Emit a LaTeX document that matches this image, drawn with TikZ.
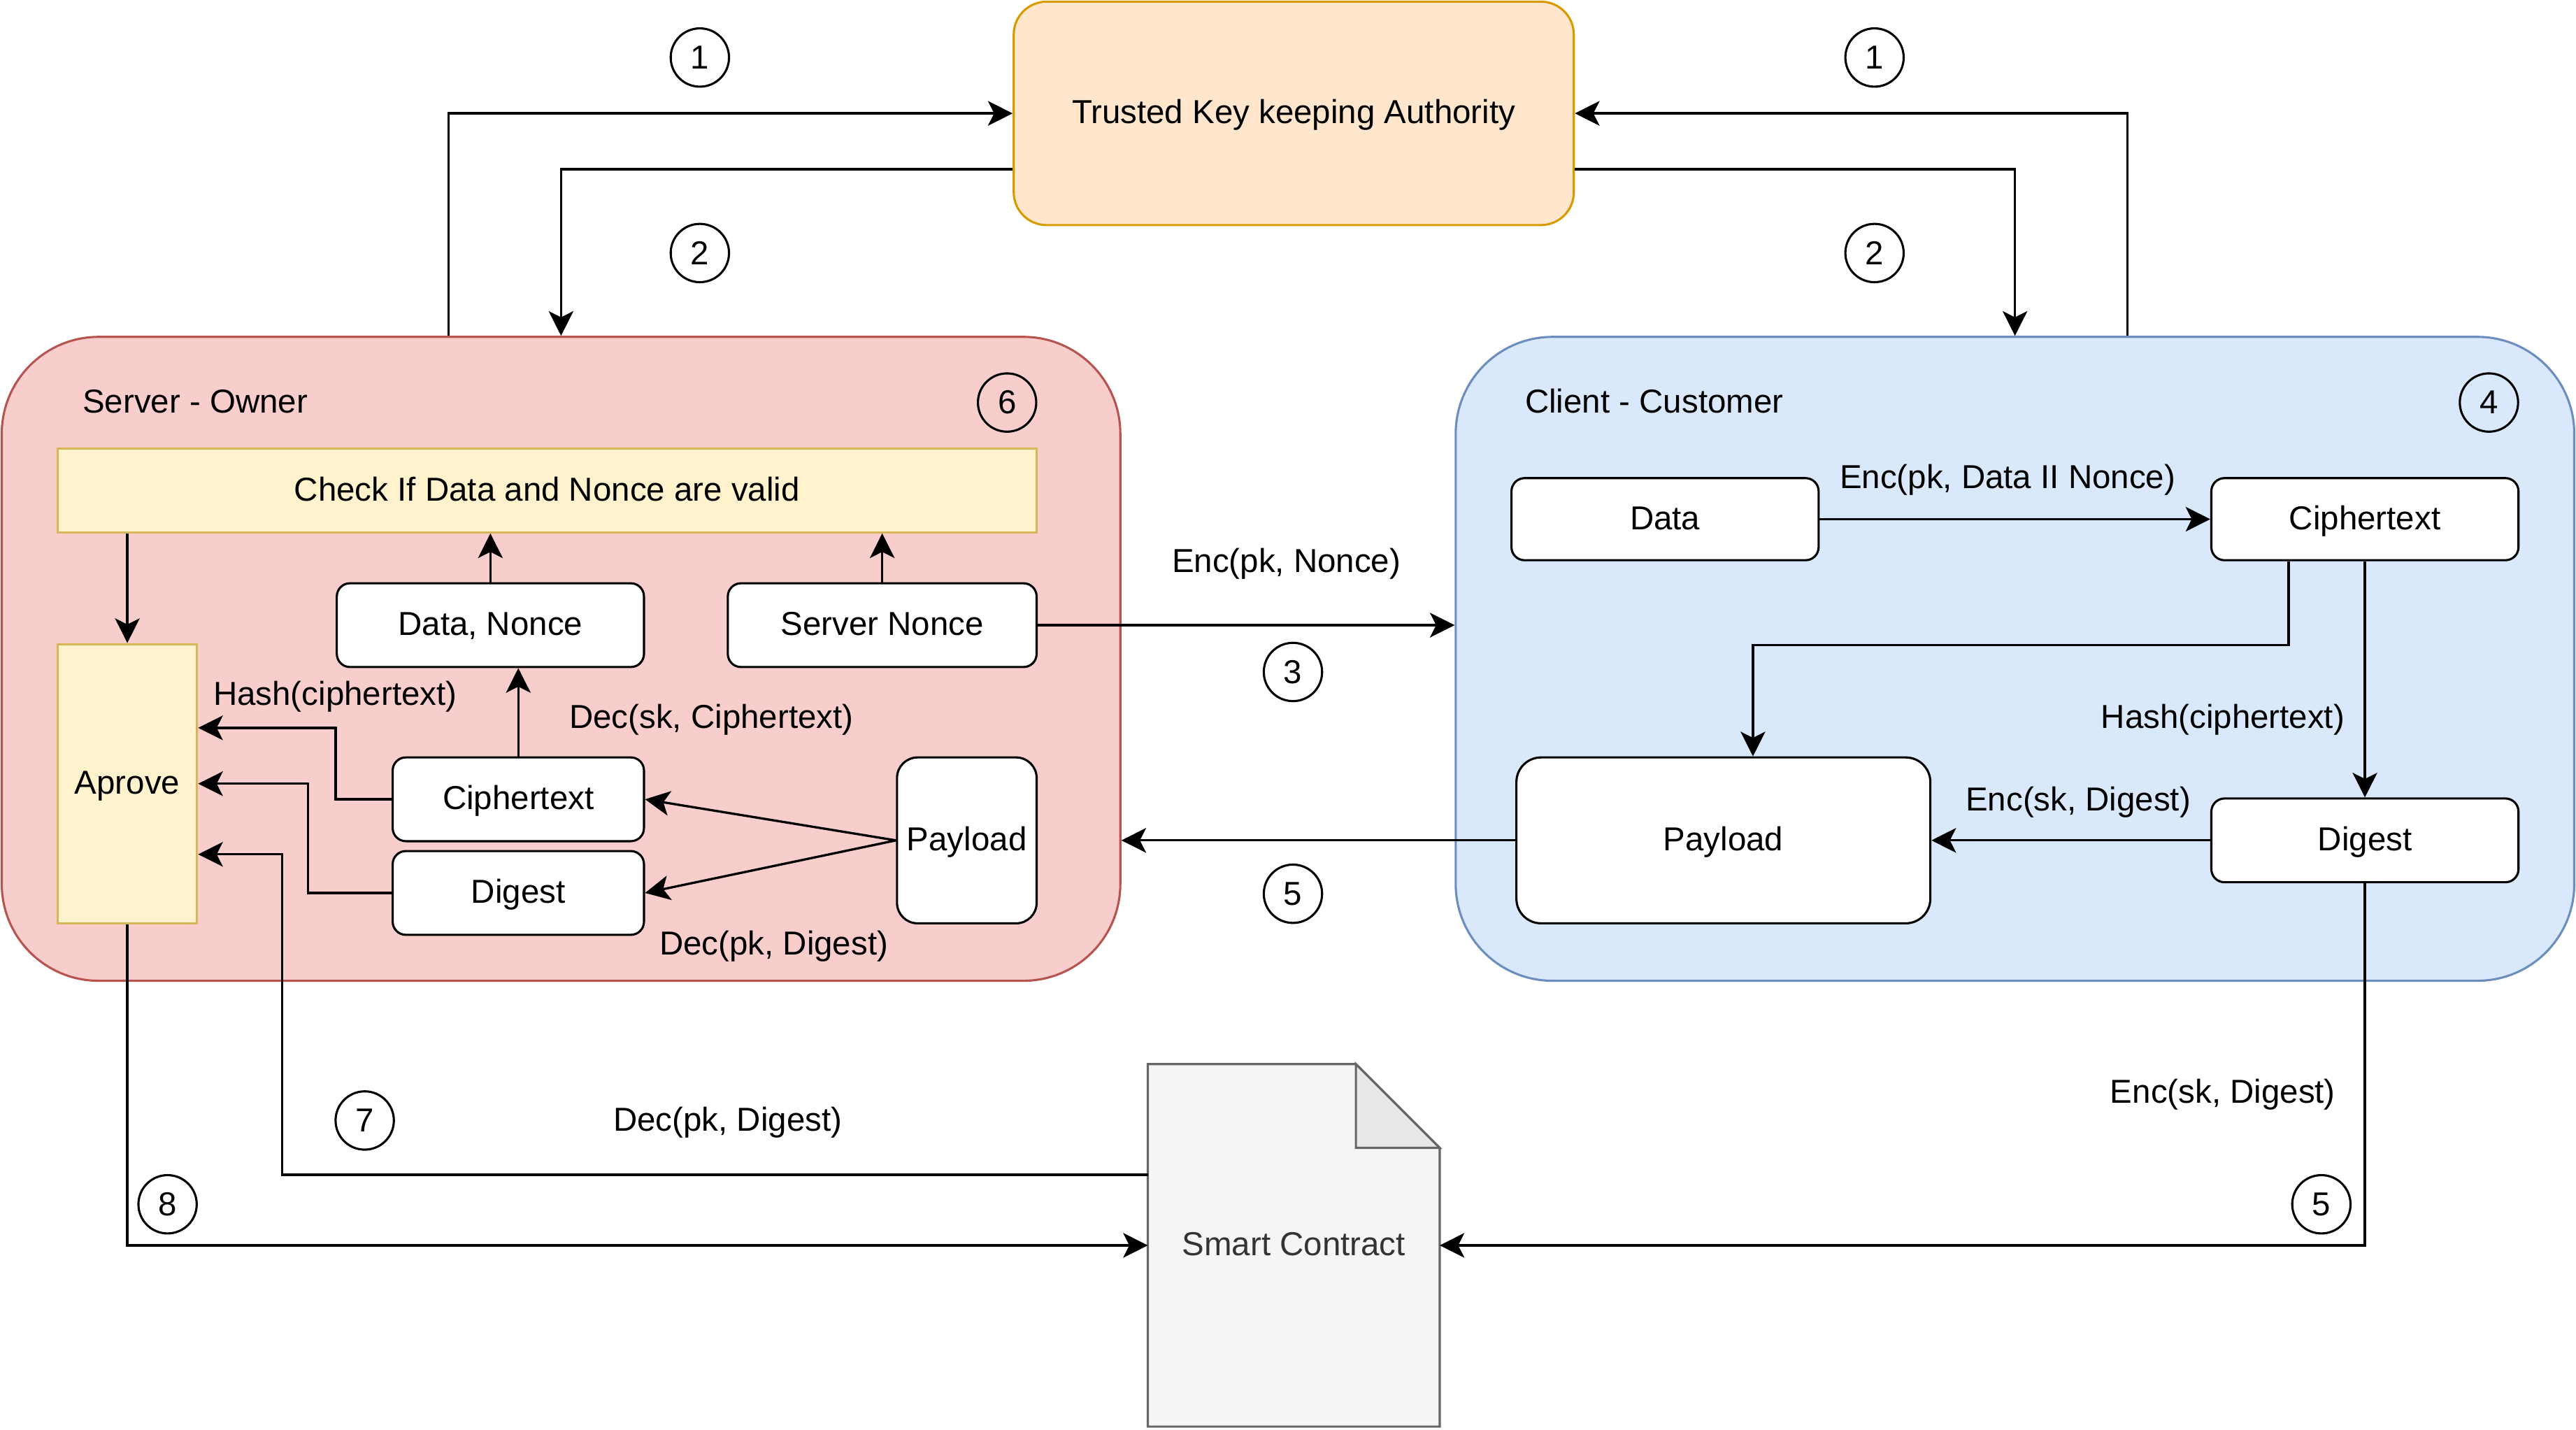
\documentclass[tikz,border=0pt]{standalone}
\usepackage{fontspec}
\setmainfont{Liberation Sans}
\usetikzlibrary{arrows.meta,backgrounds}

\definecolor{tkafill}{HTML}{FFE6CC}
\definecolor{tkadraw}{HTML}{D79B00}
\definecolor{srvfill}{HTML}{F8CECC}
\definecolor{srvdraw}{HTML}{B85450}
\definecolor{clifill}{HTML}{DAE8FC}
\definecolor{clidraw}{HTML}{6C8EBF}
\definecolor{chkfill}{HTML}{FFF2CC}
\definecolor{chkdraw}{HTML}{D6B656}
\definecolor{scfill}{HTML}{F5F5F5}
\definecolor{scdraw}{HTML}{666666}
\definecolor{sctext}{HTML}{333333}
\definecolor{scfold}{HTML}{E8E8E8}

\begin{document}
\begin{tikzpicture}[x=0.02cm,y=-0.02cm,font=\fontsize{11.5}{13}\selectfont]
        \tikzset{
            txt/.style={text height=0.72em, text depth=0pt},
            grp/.style={rectangle, rounded corners=1.18cm, line width=0.75pt, minimum width=13.62cm, minimum height=7.84cm},
            box/.style={txt, rectangle, rounded corners=0.16cm, draw=black, fill=white, line width=0.75pt, minimum height=1.02cm, inner sep=0pt},
            chk/.style={txt, rectangle, fill=chkfill, draw=chkdraw, line width=0.75pt, inner sep=0pt},
            num/.style={circle, draw=black, line width=0.75pt, minimum size=0.71cm, inner sep=0pt},
            lbl/.style={txt, inner sep=0pt},
            ar/.style={-{Stealth[length=3mm,width=3mm,inset=0.75mm]}, line width=0.8pt}
            }

            \useasboundingbox (0,0) rectangle (1568,870);

            % parties
            \node[txt, rectangle, rounded corners=0.4cm, fill=tkafill, draw=tkadraw, line width=0.75pt, minimum width=6.82cm, minimum height=2.72cm] (tka) at (787.5,69) {Trusted Key keeping Authority};
            \node[grp, fill=srvfill, draw=srvdraw] (server) at (341.5,401) {};
            \node[grp, fill=clifill, draw=clidraw] (client) at (1226.5,401) {};
            \node[lbl, anchor=west] (stitle) at (50,245) {Server - Owner};
            \node[lbl, anchor=west] (ctitle) at (928,245) {Client - Customer};

            % server side
            \node[chk, minimum width=11.92cm, minimum height=1.02cm] (check) at (333,298.5) {Check If Data and Nonce are valid};
            \node[chk, minimum width=1.7cm, minimum height=3.4cm] (aprove) at (77.5,477) {Aprove};
            \node[box, minimum width=3.74cm] (dnonce) at (298.5,380.5) {Data, Nonce};
            \node[box, minimum width=3.76cm] (snonce) at (537,380.5) {Server Nonce};
            \node[box, minimum width=3.06cm] (scipher) at (315.5,486.5) {Ciphertext};
            \node[box, minimum width=3.06cm] (sdigest) at (315.5,543.5) {Digest};
            \node[box, rounded corners=0.25cm, minimum width=1.7cm, minimum height=2.02cm] (spayload) at (588.5,511.5) {Payload};

            % client side
            \node[box, minimum width=3.74cm, minimum height=1cm] (cdata) at (1013.5,316) {Data};
            \node[box, minimum width=3.74cm, minimum height=1cm] (ccipher) at (1439.5,316) {Ciphertext};
            \node[box, rounded corners=0.3cm, minimum width=5.04cm, minimum height=2.02cm] (cpayload) at (1049,511.5) {Payload};
            \node[box, minimum width=3.74cm] (cdigest) at (1439.5,511.5) {Digest};

            % smart contract
            \node[txt, minimum width=3.54cm, minimum height=4.4cm, text=sctext] (sc) at (787.5,758) {Smart Contract};
            \begin{scope}[on background layer]
            \draw[fill=scfill, draw=scdraw, line width=0.75pt] (sc.south west) -- (sc.north west) -- ([xshift=-1.02cm]sc.north east) -- ([yshift=-1.02cm]sc.north east) -- (sc.south east) -- cycle;
            \draw[fill=scfold, draw=scdraw, line width=0.75pt] ([xshift=-1.02cm]sc.north east) -- ([xshift=-1.02cm,yshift=-1.02cm]sc.north east) -- ([yshift=-1.02cm]sc.north east) -- cycle;
            \end{scope}

            % step numbers
            \node[num] (k1a) at (426,35) {1};
            \node[num] (k2a) at (426,154) {2};
            \node[num] (k1b) at (1141,35) {1};
            \node[num] (k2b) at (1141,154) {2};
            \node[num] (k3) at (787,409) {3};
            \node[num] (k4) at (1515,245) {4};
            \node[num] (k5a) at (787,544) {5};
            \node[num] (k5b) at (1413,733) {5};
            \node[num] (k6) at (613,245) {6};
            \node[num] (k7) at (222,682) {7};
            \node[num] (k8) at (102,733) {8};

            % labels
            \node[lbl] (l1) at (783,342) {Enc(pk, Nonce)};
            \node[lbl] (l2) at (1222,291) {Enc(pk, Data II Nonce)};
            \node[lbl] (l3) at (1353,437) {Hash(ciphertext)};
            \node[lbl] (l4) at (1265,487) {Enc(sk, Digest)};
            \node[lbl] (l5) at (1353,665) {Enc(sk, Digest)};
            \node[lbl] (l6) at (443,682) {Dec(pk, Digest)};
            \node[lbl] (l7) at (433,437) {Dec(sk, Ciphertext)};
            \node[lbl] (l8) at (204,423) {Hash(ciphertext)};
            \node[lbl] (l9) at (471,575) {Dec(pk, Digest)};

            % key authority
            \draw[ar] ([xshift=-1.37cm]server.north) |- (tka.west);
            \draw[ar] ([yshift=-0.68cm]tka.west) -| (server.north);
            \draw[ar] ([xshift=1.37cm]client.north) |- (tka.east);
            \draw[ar] ([yshift=-0.68cm]tka.east) -| (client.north);

            % between parties
            \draw[ar] (snonce.east) -- (snonce.east -| client.west);
            \draw[ar] (cpayload.west) -- (cpayload.west -| server.east);

            % client
            \draw[ar] (cdata) -- (ccipher);
            \draw[ar] ([xshift=-0.93cm]ccipher.south) -- ++(0,51) -| ([xshift=0.36cm]cpayload.north);
            \draw[ar] (ccipher) -- (cdigest);
            \draw[ar] (cdigest) -- (cpayload);
            \draw[ar] (cdigest.south) |- (sc.east);

            % server
            \draw[ar] (check.south -| aprove.north) -- (aprove.north);
            \draw[ar] (dnonce.north) -- (dnonce.north |- check.south);
            \draw[ar] (snonce.north) -- (snonce.north |- check.south);
            \draw[ar] (scipher.north) -- (scipher.north |- dnonce.south);
            \draw[ar] (scipher.west) -- ++(-34,0) |- ([yshift=0.68cm]aprove.east);
            \draw[ar] (sdigest.west) -- ++(-51,0) |- (aprove.east);
            \draw[ar] (spayload.west) -- (scipher.east);
            \draw[ar] (spayload.west) -- (sdigest.east);

            % smart contract
            \draw[ar] (aprove.south) |- (sc.west);
            \draw[ar] ([yshift=0.86cm]sc.west) -- ++(-527,0) |- ([yshift=-0.86cm]aprove.east);
\end{tikzpicture}
\end{document}
